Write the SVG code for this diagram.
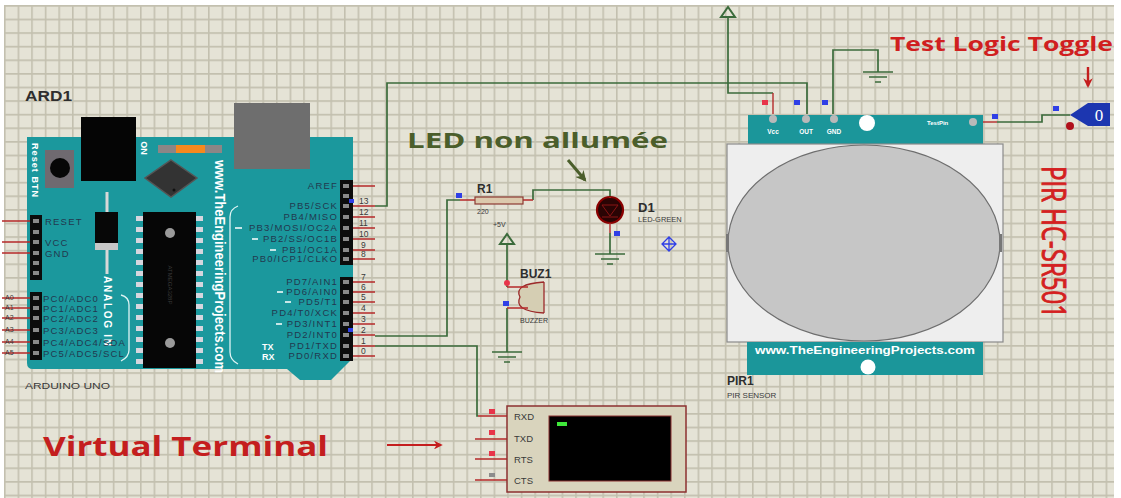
<svg xmlns="http://www.w3.org/2000/svg" width="1121" height="498" viewBox="0 0 1121 498">
<defs>
  <pattern id="grid" width="13.6" height="13.6" patternUnits="userSpaceOnUse" x="4" y="5">
    <rect width="13.6" height="13.6" fill="#e5e3d6"/>
    <path d="M0,0.8 H13.6 M0.8,0 V13.6" stroke="#c3c0af" stroke-width="1.6"/>
  </pattern>
  <marker id="headRed" viewBox="0 0 10 10" refX="8" refY="5" markerWidth="4" markerHeight="4" orient="auto">
    <path d="M0,0 L10,5 L0,10 L3,5 Z" fill="#c41e1e"/>
  </marker>
  <marker id="headOlive" viewBox="0 0 10 10" refX="8" refY="5" markerWidth="3.6" markerHeight="3.6" orient="auto">
    <path d="M0,0 L10,5 L0,10 L3,5 Z" fill="#4b5e2b"/>
  </marker>
  <g id="gnd">
    <path d="M-15,0 H15 M-9,5 H9 M-3,10 H3" stroke="#3b6b3b" stroke-width="1.6" fill="none"/>
  </g>
  <g id="pwr">
    <path d="M-7,10 L7,10 L0,0 Z" stroke="#3b6b3b" stroke-width="2" fill="none"/>
  </g>
</defs>
<style>
  .wire{fill:none;stroke:#3b6b3b;stroke-width:1.7}
  .lead{fill:none;stroke:#b52a2a;stroke-width:1.4}
  .plab{font-family:"Liberation Sans",Arial,sans-serif;font-size:9.5px;fill:#22394f;letter-spacing:1.2px}
  .pnum{font-family:"Liberation Sans",Arial,sans-serif;font-size:8.5px;fill:#3a3a3a}
  .wtxt{font-family:"Liberation Sans",Arial,sans-serif;font-weight:bold;fill:#ffffff}
  .ref{font-family:"Liberation Sans",Arial,sans-serif;font-weight:bold;fill:#2e2e2e}
  .val{font-family:"Liberation Sans",Arial,sans-serif;fill:#3a3a3a}
  .hole{fill:#8a8a8a}
  .cpin{fill:#d6d6de}
  .mb{fill:#2f3fe6}
  .mr{fill:#e8344a}
  .note{font-family:"Open Sans","Liberation Sans",sans-serif;font-weight:bold}
</style>

<!-- sheet -->
<rect width="1121" height="498" fill="#ffffff"/>
<rect x="4" y="5" width="1110" height="493" fill="url(#grid)"/>

<!-- Arduino Uno -->
<g id="ard1">
  <text class="ref" x="25" y="101" font-size="14" textLength="47" lengthAdjust="spacingAndGlyphs">ARD1</text>
  <path d="M27,137 H353 V358 L331,380 H300 L287,369 H33 Q27,369 27,363 Z" fill="#1b989d"/>
  <!-- DC jack and USB -->
  <rect x="81" y="117" width="55" height="64" fill="#050505"/>
  <rect x="234" y="103" width="76" height="66" fill="#6e6e6e"/>
  <!-- reset button -->
  <rect x="45" y="150" width="29" height="38" fill="#6f6a70"/>
  <circle cx="60" cy="168" r="10" fill="#070707"/>
  <text class="wtxt" font-size="9" text-anchor="middle" dominant-baseline="central" transform="translate(35,170) rotate(90)" textLength="54">Reset BTN</text>
  <!-- power LED -->
  <text class="wtxt" font-size="9" text-anchor="middle" dominant-baseline="central" transform="translate(144,148) rotate(90)">ON</text>
  <rect x="158" y="145" width="18" height="8" fill="#8c8686"/>
  <rect x="176" y="145" width="29" height="8" fill="#f5891e"/>
  <rect x="205" y="145" width="17" height="8" fill="#8c8686"/>
  <!-- regulator chip -->
  <path d="M171,160 L197,178 L171,197 L145,178 Z" fill="#333333" stroke="#555555" stroke-width="1.5"/>
  <circle cx="174" cy="190" r="1.5" fill="#111"/>
  <!-- diode-like part -->
  <path d="M107,192 V212 M107,250 V274" stroke="#d8d8d8" stroke-width="3"/>
  <rect x="95" y="212" width="23" height="31" fill="#070707"/>
  <rect x="95" y="243" width="23" height="7" fill="#c7c7c7"/>
  <text class="wtxt" font-size="10" text-anchor="middle" dominant-baseline="central" transform="translate(107,311) rotate(90)" textLength="70">ANALOG IN</text>
  <!-- microcontroller -->
  <rect x="143" y="212" width="53" height="156" fill="#060606"/>
  <g class="cpin">
    <rect x="136" y="216" width="7" height="5"/><rect x="136" y="227" width="7" height="5"/><rect x="136" y="238" width="7" height="5"/><rect x="136" y="249" width="7" height="5"/><rect x="136" y="260" width="7" height="5"/><rect x="136" y="271" width="7" height="5"/><rect x="136" y="282" width="7" height="5"/><rect x="136" y="293" width="7" height="5"/><rect x="136" y="304" width="7" height="5"/><rect x="136" y="315" width="7" height="5"/><rect x="136" y="326" width="7" height="5"/><rect x="136" y="337" width="7" height="5"/><rect x="136" y="348" width="7" height="5"/><rect x="136" y="359" width="7" height="5"/>
    <rect x="196" y="216" width="7" height="5"/><rect x="196" y="227" width="7" height="5"/><rect x="196" y="238" width="7" height="5"/><rect x="196" y="249" width="7" height="5"/><rect x="196" y="260" width="7" height="5"/><rect x="196" y="271" width="7" height="5"/><rect x="196" y="282" width="7" height="5"/><rect x="196" y="293" width="7" height="5"/><rect x="196" y="304" width="7" height="5"/><rect x="196" y="315" width="7" height="5"/><rect x="196" y="326" width="7" height="5"/><rect x="196" y="337" width="7" height="5"/><rect x="196" y="348" width="7" height="5"/><rect x="196" y="359" width="7" height="5"/>
  </g>
  <circle cx="170" cy="233" r="5" fill="#9a9a9a"/>
  <circle cx="170" cy="343" r="5" fill="#9a9a9a"/>
  <text class="val" font-size="6" fill="#9a9a9a" text-anchor="middle" dominant-baseline="central" transform="translate(170,285) rotate(90)">ATMEGA328P</text>
  <!-- brackets -->
  <path d="M121,295 Q129,297 129,305 V350 Q129,357 121,361" fill="none" stroke="#dff4f4" stroke-width="1.3"/>
  <path d="M238,206 Q230,209 230,217 V352 Q230,360 238,364" fill="none" stroke="#dff4f4" stroke-width="1.3"/>
  <text class="wtxt" font-size="14" text-anchor="middle" dominant-baseline="central" transform="translate(219.5,266.5) rotate(90)" textLength="213" lengthAdjust="spacingAndGlyphs">www.TheEngineeringProjects.com</text>

  <!-- power header -->
  <path class="lead" d="M2,221 H30 M2,242 H30 M2,253 H30"/>
  <rect x="30" y="215" width="12" height="65" fill="#0c0c0c"/>
  <g class="hole">
    <rect x="33" y="219" width="6" height="4"/><rect x="33" y="230" width="6" height="4"/><rect x="33" y="240" width="6" height="4"/><rect x="33" y="251" width="6" height="4"/><rect x="33" y="261" width="6" height="4"/><rect x="33" y="271" width="6" height="4"/>
  </g>
  <text class="plab" x="45" y="225">RESET</text>
  <text class="plab" x="45" y="246">VCC</text>
  <text class="plab" x="45" y="257">GND</text>
  <!-- analog header -->
  <path class="lead" d="M2,298 H30 M2,308 H30 M2,318 H30 M2,330 H30 M2,342 H30 M2,353 H30"/>
  <g class="val" font-size="7">
    <text x="5" y="300">A0</text><text x="5" y="310">A1</text><text x="5" y="320">A2</text><text x="5" y="332">A3</text><text x="5" y="344">A4</text><text x="5" y="355">A5</text>
  </g>
  <rect x="30" y="292" width="12" height="68" fill="#0c0c0c"/>
  <g class="hole">
    <rect x="33" y="296" width="6" height="4"/><rect x="33" y="306" width="6" height="4"/><rect x="33" y="316" width="6" height="4"/><rect x="33" y="328" width="6" height="4"/><rect x="33" y="340" width="6" height="4"/><rect x="33" y="351" width="6" height="4"/>
  </g>
  <text class="plab" x="43" y="302">PC0/ADC0</text>
  <text class="plab" x="43" y="312">PC1/ADC1</text>
  <text class="plab" x="43" y="322">PC2/ADC2</text>
  <text class="plab" x="43" y="334">PC3/ADC3</text>
  <text class="plab" x="43" y="346">PC4/ADC4/SDA</text>
  <text class="plab" x="43" y="357">PC5/ADC5/SCL</text>
  <text class="val" x="25" y="389" font-size="9" textLength="85" lengthAdjust="spacingAndGlyphs">ARDUINO UNO</text>

  <!-- digital headers -->
  <path class="lead" d="M353,186 H375 M353,206 H375 M353,217 H375 M353,228 H375 M353,239 H375 M353,250 H375 M353,259 H375 M353,282 H375 M353,292 H375 M353,302 H375 M353,313 H375 M353,324 H375 M353,335 H375 M353,346 H375 M353,356 H375"/>
  <rect x="340" y="180" width="13" height="85" fill="#0c0c0c"/>
  <rect x="340" y="277" width="13" height="84" fill="#0c0c0c"/>
  <g class="hole">
    <rect x="343" y="184" width="6" height="4"/><rect x="343" y="194" width="6" height="4"/><rect x="343" y="204" width="6" height="4"/><rect x="343" y="215" width="6" height="4"/><rect x="343" y="226" width="6" height="4"/><rect x="343" y="237" width="6" height="4"/><rect x="343" y="248" width="6" height="4"/><rect x="343" y="257" width="6" height="4"/>
    <rect x="343" y="280" width="6" height="4"/><rect x="343" y="290" width="6" height="4"/><rect x="343" y="300" width="6" height="4"/><rect x="343" y="311" width="6" height="4"/><rect x="343" y="322" width="6" height="4"/><rect x="343" y="333" width="6" height="4"/><rect x="343" y="344" width="6" height="4"/><rect x="343" y="354" width="6" height="4"/>
  </g>
  <g class="plab" text-anchor="end">
    <text x="338" y="189">AREF</text>
    <text x="338" y="209">PB5/SCK</text>
    <text x="338" y="220">PB4/MISO</text>
    <text x="338" y="231">PB3/MOSI/OC2A</text>
    <text x="338" y="242">PB2/SS/OC1B</text>
    <text x="338" y="253">PB1/OC1A</text>
    <text x="338" y="262">PB0/ICP1/CLKO</text>
    <text x="338" y="285">PD7/AIN1</text>
    <text x="338" y="295">PD6/AIN0</text>
    <text x="338" y="305">PD5/T1</text>
    <text x="338" y="316">PD4/T0/XCK</text>
    <text x="338" y="327">PD3/INT1</text>
    <text x="338" y="338">PD2/INT0</text>
    <text x="338" y="349">PD1/TXD</text>
    <text x="338" y="359">PD0/RXD</text>
  </g>
  <path d="M235,228 H242 M252,239 H258 M270,250 H276 M277,292 H283 M285,302 H291 M276,324 H282" stroke="#ffffff" stroke-width="1.6"/>
  <text class="wtxt" x="262" y="350" font-size="9">TX</text>
  <text class="wtxt" x="262" y="360" font-size="9">RX</text>
  <g class="pnum">
    <text x="359" y="204">13</text><text x="359" y="215">12</text><text x="359" y="226">11</text><text x="359" y="237">10</text><text x="361" y="248">9</text><text x="361" y="257">8</text>
    <text x="361" y="280">7</text><text x="361" y="290">6</text><text x="361" y="300">5</text><text x="361" y="311">4</text><text x="361" y="322">3</text><text x="361" y="333">2</text><text x="361" y="344">1</text><text x="361" y="354">0</text>
  </g>
  <rect class="mb" x="349" y="199" width="5" height="4"/>
  <rect class="mb" x="348" y="328" width="5" height="4"/>
</g>

<!-- wires -->
<g id="connectors">
  <path class="wire" d="M375,206 H387 V83 H807 V114"/>
  <path class="wire" d="M728,18 V93 H773"/>
  <path class="lead" d="M773,93 V114"/>
  <path class="wire" d="M833,114 V50 H878 V72"/>
  <path class="lead" d="M983,122 H997"/>
  <path class="wire" d="M997,122 H1042 V115 H1070"/>
  <path class="wire" d="M375,336 H447 V200 H460"/>
  <path class="wire" d="M375,346 H477 V416 H478"/>
  <path class="wire" d="M533,200 V190 H610 V197"/>
  <path class="wire" d="M610,233 V254"/>
  <path class="wire" d="M507,244 V287"/>
  <path class="wire" d="M507,308 V352"/>
</g>

<!-- resistor -->
<g id="r1">
  <path class="lead" d="M460,200 H475 M523,200 H533"/>
  <rect x="475" y="197" width="48" height="7" fill="#dcc9ad" stroke="#8c3a32" stroke-width="1.2"/>
  <text class="ref" x="477" y="193" font-size="12">R1</text>
  <text class="val" x="477" y="214" font-size="7">220</text>
  <rect class="mb" x="456" y="193" width="6" height="5"/>
</g>

<!-- LED -->
<g id="d1">
  <circle cx="610" cy="210" r="13" fill="#2a0404" stroke="#8a0000" stroke-width="2.2"/>
  <path d="M602,205 H618 L610,216 Z M602,217 H618" fill="none" stroke="#8a1414" stroke-width="1"/>
  <path class="lead" d="M610,197 V198 M610,223 V233"/>
  <text class="ref" x="638" y="212" font-size="13">D1</text>
  <text class="val" x="638" y="222" font-size="7.5">LED-GREEN</text>
  <rect class="mb" x="614" y="231" width="6" height="5"/>
  <use href="#gnd" x="610" y="254"/>
  <path d="M669,237 L676,244 L669,251 L662,244 Z M662,244 H676 M669,237 V251" fill="none" stroke="#2f3fe6" stroke-width="1.3"/>
</g>

<!-- buzzer -->
<g id="buz1">
  <use href="#pwr" x="507" y="234"/>
  <text class="val" x="493" y="227" font-size="7">+5V</text>
  <path d="M544,282 V313 M544,282 Q513,284 520,297 Q513,311 544,313" fill="#d5ceb3" stroke="#9c2a2a" stroke-width="1.3"/>
  <path class="lead" d="M507,287 H528 M507,308 H528"/>
  <circle cx="507" cy="283" r="3" fill="#e8344a"/>
  <rect class="mb" x="503" y="301" width="6" height="5"/>
  <text class="ref" x="520" y="278" font-size="12">BUZ1</text>
  <text class="val" x="520" y="323" font-size="7">BUZZER</text>
  <use href="#gnd" x="507" y="352"/>
</g>

<!-- virtual terminal -->
<g id="vterm">
  <path class="lead" d="M478,416 H507 M475,439 H507 M475,459 H507 M475,480 H507"/>
  <rect x="507" y="406" width="179" height="86" fill="#d9d4bd" stroke="#8c3030" stroke-width="1.5"/>
  <rect x="549" y="416" width="122" height="65" fill="#000000" stroke="#8c3030" stroke-width="1"/>
  <rect x="557" y="422" width="10" height="4" fill="#3fe83a"/>
  <g class="val" font-size="9.5" fill="#555">
    <text x="514" y="420">RXD</text><text x="514" y="442">TXD</text><text x="514" y="463">RTS</text><text x="514" y="484">CTS</text>
  </g>
  <rect class="mr" x="489" y="409" width="6" height="5"/>
  <rect class="mr" x="489" y="430" width="6" height="5"/>
  <rect class="mr" x="489" y="451" width="6" height="5"/>
  <rect x="489" y="473" width="6" height="4" fill="#8c8c8c"/>
</g>

<!-- PIR sensor -->
<g id="pir1">
  <use href="#pwr" x="728" y="7"/>
  <use href="#gnd" x="878" y="72"/>
  <rect class="mr" x="762" y="100" width="6" height="5"/>
  <rect class="mb" x="794" y="100" width="6" height="5"/>
  <rect class="mb" x="822" y="100" width="6" height="5"/>
  <rect x="748" y="115" width="235" height="30" fill="#1b969a"/>
  <circle cx="773" cy="119" r="4" fill="#b9b9b9"/>
  <circle cx="806" cy="119" r="4" fill="#b9b9b9"/>
  <circle cx="834" cy="119" r="4" fill="#b9b9b9"/>
  <circle cx="867" cy="123" r="8" fill="#ffffff"/>
  <circle cx="973" cy="122" r="4" fill="#b9b9b9"/>
  <g class="wtxt" font-size="6.5" text-anchor="middle">
    <text x="773" y="134">Vcc</text><text x="806" y="134">OUT</text><text x="834" y="134">GND</text>
  </g>
  <text class="wtxt" x="927" y="125" font-size="6">TestPin</text>
  <rect x="727" y="144" width="276" height="198" fill="#eeeeee" stroke="#8a8a8a" stroke-width="1.2"/>
  <ellipse cx="864" cy="243" rx="136" ry="98" fill="#c6c6c6" stroke="#6e6e6e" stroke-width="1.2"/>
  <rect x="726" y="234" width="3" height="18" fill="#777"/>
  <rect x="999" y="234" width="3" height="18" fill="#777"/>
  <rect x="747" y="342" width="236" height="33" fill="#1b969a"/>
  <text class="wtxt" x="865" y="354" font-size="10" text-anchor="middle" textLength="220" lengthAdjust="spacingAndGlyphs">www.TheEngineeringProjects.com</text>
  <circle cx="868" cy="367" r="7.5" fill="#ffffff"/>
  <text class="ref" x="727" y="385" font-size="12">PIR1</text>
  <text class="val" x="727" y="398" font-size="8">PIR SENSOR</text>
  <rect class="mb" x="992" y="114" width="6" height="5"/>
</g>

<!-- logic toggle -->
<g id="ltog">
  <rect class="mb" x="1053" y="106" width="6" height="5"/>
  <path d="M1070,115 L1088,103 H1110 V126 H1088 Z" fill="#1c36b0"/>
  <text x="1099" y="121" font-family="Liberation Serif,serif" font-size="17" fill="#ffffff" text-anchor="middle">0</text>
  <circle cx="1070" cy="126" r="4" fill="#b0101a"/>
</g>

<!-- notes -->
<g id="notes">
  <text class="note" x="890" y="51" font-size="19.5" fill="#d01f1f" textLength="223" lengthAdjust="spacingAndGlyphs">Test Logic Toggle</text>
  <path d="M1088,67 V86" stroke="#c41e1e" stroke-width="2.4" marker-end="url(#headRed)"/>
  <text class="note" x="407" y="148" font-size="21" fill="#4b5e2b" textLength="261" lengthAdjust="spacingAndGlyphs">LED non allumée</text>
  <path d="M568,160 L585,180" stroke="#4b5e2b" stroke-width="3" marker-end="url(#headOlive)"/>
  <text x="1054" y="242" font-family="Open Sans,Liberation Sans,sans-serif" font-size="32" fill="#d42020" stroke="#d42020" stroke-width="0.9" text-anchor="middle" dominant-baseline="central" transform="rotate(90 1054 242)" textLength="152" lengthAdjust="spacingAndGlyphs">PIR HC-SR501</text>
  <text class="note" x="43" y="456" font-size="26" fill="#c41e1e" textLength="285" lengthAdjust="spacingAndGlyphs">Virtual Terminal</text>
  <path d="M387,445 H441" stroke="#c41e1e" stroke-width="2.2" marker-end="url(#headRed)"/>
</g>
</svg>
